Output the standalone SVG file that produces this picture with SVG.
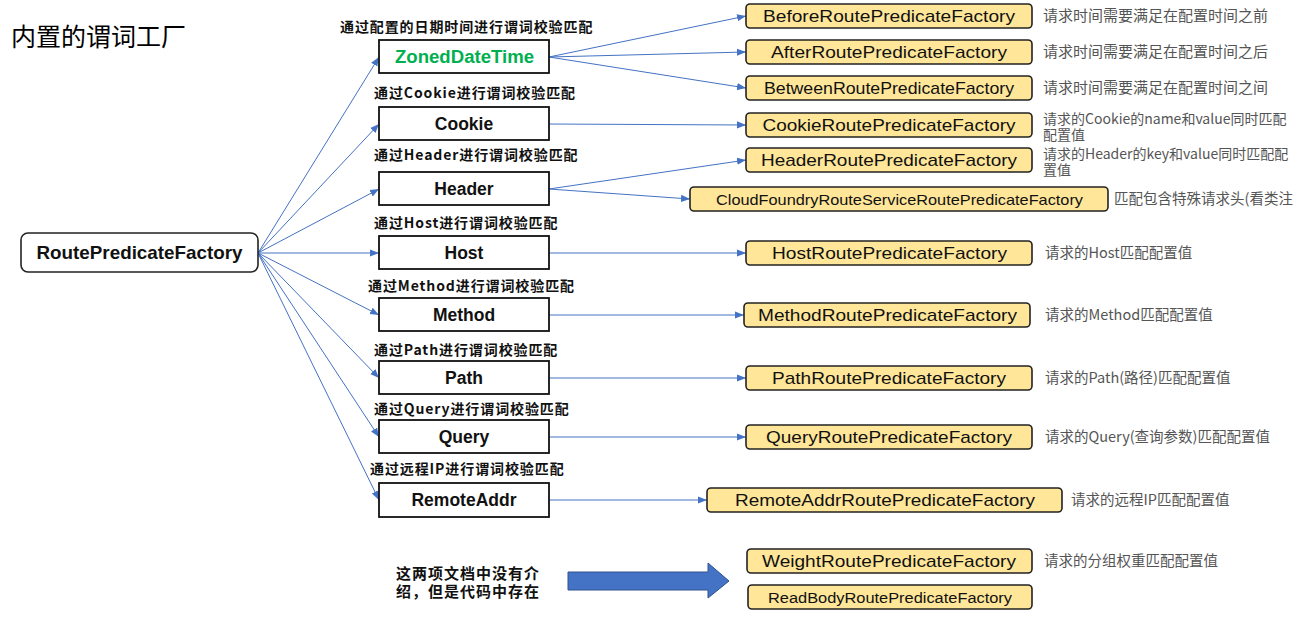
<svg xmlns="http://www.w3.org/2000/svg" width="1304" height="617" viewBox="0 0 1304 617">
  <style>
    .title { font-family: "Noto Sans CJK SC", "Liberation Sans", sans-serif; font-size: 25px; fill: #000; }
    .root-box { fill: #fff; stroke: #222; stroke-width: 1.6; }
    .root-txt { font-family: "Liberation Sans", "Noto Sans CJK SC", sans-serif; font-weight: bold; font-size: 18.5px; fill: #111; text-anchor: middle; }
    .mid-box { fill: #fff; stroke: #111; stroke-width: 1.8; }
    .mid-txt { font-family: "Liberation Sans", "Noto Sans CJK SC", sans-serif; font-weight: bold; font-size: 17.5px; fill: #111; text-anchor: middle; }
    .mid-lbl { font-family: "Noto Sans CJK SC", sans-serif; font-weight: bold; font-size: 14px; letter-spacing: 0.9px; fill: #111; }
    .fac-box { fill: #ffe699; stroke: #222; stroke-width: 1.6; }
    .fac-txt { font-family: "Liberation Sans", "Noto Sans CJK SC", sans-serif; font-size: 17px; fill: #111; text-anchor: middle; }
    .desc { font-family: "Noto Sans CJK SC", "Liberation Sans", sans-serif; font-size: 14.5px; fill: #555; }
    .desc-t { font-size: 15px; }
    .desc-s { font-size: 14px; }
    .note { font-family: "Noto Sans CJK SC", sans-serif; font-weight: bold; font-size: 15px; letter-spacing: 1px; fill: #111; }
    .conn { stroke: #4472c4; stroke-width: 1; fill: none; marker-end: url(#arr); }
  </style>
  <defs>
    <marker id="arr" viewBox="0 0 10 10" refX="10" refY="5" markerWidth="9" markerHeight="9" markerUnits="userSpaceOnUse" orient="auto">
      <path d="M0,1 L10,5 L0,9 Z" fill="#4472c4"/>
    </marker>
  </defs>

  <rect width="1304" height="617" fill="#fff"/>

  <text class="title" x="11" y="46">内置的谓词工厂</text>

  <!-- connectors -->
  <g id="connectors">
    <line class="conn" x1="258" y1="253" x2="379" y2="57"/>
    <line class="conn" x1="258" y1="253" x2="379" y2="124"/>
    <line class="conn" x1="258" y1="253" x2="379" y2="189"/>
    <line class="conn" x1="258" y1="253" x2="379" y2="253"/>
    <line class="conn" x1="258" y1="253" x2="379" y2="315"/>
    <line class="conn" x1="258" y1="253" x2="379" y2="378"/>
    <line class="conn" x1="258" y1="253" x2="379" y2="437"/>
    <line class="conn" x1="258" y1="253" x2="379" y2="500"/>

    <line class="conn" x1="549" y1="57" x2="746" y2="16"/>
    <line class="conn" x1="549" y1="57" x2="746" y2="52"/>
    <line class="conn" x1="549" y1="57" x2="746" y2="88"/>
    <line class="conn" x1="549" y1="124" x2="746" y2="125"/>
    <line class="conn" x1="549" y1="189" x2="746" y2="160"/>
    <line class="conn" x1="549" y1="189" x2="690" y2="199"/>
    <line class="conn" x1="549" y1="253" x2="746" y2="253"/>
    <line class="conn" x1="549" y1="315" x2="744" y2="315"/>
    <line class="conn" x1="549" y1="378" x2="746" y2="378"/>
    <line class="conn" x1="549" y1="437" x2="746" y2="437"/>
    <line class="conn" x1="549" y1="500" x2="707" y2="500"/>
  </g>

  <!-- root -->
  <g id="root">
    <rect class="root-box" x="21" y="233" width="237" height="39" rx="7"/>
    <text class="root-txt" x="139.5" y="259" textLength="206" lengthAdjust="spacingAndGlyphs">RoutePredicateFactory</text>
  </g>

  <!-- predicate kinds -->
  <g id="zoned">
    <text class="mid-lbl" x="340" y="32">通过配置的日期时间进行谓词校验匹配</text>
    <rect class="mid-box" x="379" y="40" width="170" height="33"/>
    <text class="mid-txt" x="464.5" y="63" style="fill:#00b050" textLength="139" lengthAdjust="spacingAndGlyphs">ZonedDateTime</text>
  </g>
  <g id="cookie">
    <text class="mid-lbl" x="374" y="98">通过Cookie进行谓词校验匹配</text>
    <rect class="mid-box" x="379" y="107" width="170" height="33"/>
    <text class="mid-txt" x="464" y="130">Cookie</text>
  </g>
  <g id="header">
    <text class="mid-lbl" x="374" y="160">通过Header进行谓词校验匹配</text>
    <rect class="mid-box" x="379" y="172" width="170" height="33"/>
    <text class="mid-txt" x="464" y="195">Header</text>
  </g>
  <g id="host">
    <text class="mid-lbl" x="374" y="228">通过Host进行谓词校验匹配</text>
    <rect class="mid-box" x="379" y="236" width="170" height="33"/>
    <text class="mid-txt" x="464" y="259">Host</text>
  </g>
  <g id="method">
    <text class="mid-lbl" x="368" y="291">通过Method进行谓词校验匹配</text>
    <rect class="mid-box" x="379" y="298" width="170" height="33"/>
    <text class="mid-txt" x="464" y="321">Method</text>
  </g>
  <g id="path">
    <text class="mid-lbl" x="374" y="355">通过Path进行谓词校验匹配</text>
    <rect class="mid-box" x="379" y="361" width="170" height="33"/>
    <text class="mid-txt" x="464" y="384">Path</text>
  </g>
  <g id="query">
    <text class="mid-lbl" x="374" y="414">通过Query进行谓词校验匹配</text>
    <rect class="mid-box" x="379" y="420" width="170" height="33"/>
    <text class="mid-txt" x="464" y="443">Query</text>
  </g>
  <g id="remoteaddr">
    <text class="mid-lbl" x="370" y="474">通过远程IP进行谓词校验匹配</text>
    <rect class="mid-box" x="379" y="483" width="170" height="34"/>
    <text class="mid-txt" x="464" y="506">RemoteAddr</text>
  </g>

  <!-- factories -->
  <g id="before-factory">
    <rect class="fac-box" x="746" y="4" width="286" height="24" rx="4"/>
    <text class="fac-txt" x="889" y="22" textLength="252" lengthAdjust="spacingAndGlyphs">BeforeRoutePredicateFactory</text>
    <text class="desc desc-t" x="1043" y="21">请求时间需要满足在配置时间之前</text>
  </g>
  <g id="after-factory">
    <rect class="fac-box" x="746" y="40" width="286" height="24" rx="4"/>
    <text class="fac-txt" x="889" y="58" textLength="236" lengthAdjust="spacingAndGlyphs">AfterRoutePredicateFactory</text>
    <text class="desc desc-t" x="1043" y="57">请求时间需要满足在配置时间之后</text>
  </g>
  <g id="between-factory">
    <rect class="fac-box" x="746" y="76" width="286" height="24" rx="4"/>
    <text class="fac-txt" x="889" y="94" textLength="250" lengthAdjust="spacingAndGlyphs">BetweenRoutePredicateFactory</text>
    <text class="desc desc-t" x="1043" y="93">请求时间需要满足在配置时间之间</text>
  </g>
  <g id="cookie-factory">
    <rect class="fac-box" x="746" y="113" width="286" height="24" rx="4"/>
    <text class="fac-txt" x="889" y="131" textLength="253" lengthAdjust="spacingAndGlyphs">CookieRoutePredicateFactory</text>
    <text class="desc desc-s" x="1043" y="124">请求的Cookie的name和value同时匹配<tspan x="1043" dy="16">配置值</tspan></text>
  </g>
  <g id="header-factory">
    <rect class="fac-box" x="746" y="148" width="286" height="24" rx="4"/>
    <text class="fac-txt" x="889" y="166" textLength="256" lengthAdjust="spacingAndGlyphs">HeaderRoutePredicateFactory</text>
    <text class="desc desc-s" x="1043" y="159">请求的Header的key和value同时匹配配<tspan x="1043" dy="16">置值</tspan></text>
  </g>
  <g id="cloudfoundry-factory">
    <rect class="fac-box" x="690" y="187" width="418" height="24" rx="4"/>
    <text class="fac-txt" x="899.5" y="204.5" style="font-size:15px" textLength="367" lengthAdjust="spacingAndGlyphs">CloudFoundryRouteServiceRoutePredicateFactory</text>
    <text class="desc" x="1114" y="204">匹配包含特殊请求头(看类注</text>
  </g>
  <g id="host-factory">
    <rect class="fac-box" x="746" y="241" width="286" height="24" rx="4"/>
    <text class="fac-txt" x="889.5" y="259" textLength="235" lengthAdjust="spacingAndGlyphs">HostRoutePredicateFactory</text>
    <text class="desc" x="1045" y="258">请求的Host匹配配置值</text>
  </g>
  <g id="method-factory">
    <rect class="fac-box" x="744" y="303" width="286" height="24" rx="4"/>
    <text class="fac-txt" x="887.5" y="321" textLength="259" lengthAdjust="spacingAndGlyphs">MethodRoutePredicateFactory</text>
    <text class="desc" x="1045" y="320">请求的Method匹配配置值</text>
  </g>
  <g id="path-factory">
    <rect class="fac-box" x="746" y="366" width="286" height="24" rx="4"/>
    <text class="fac-txt" x="889" y="384" textLength="234" lengthAdjust="spacingAndGlyphs">PathRoutePredicateFactory</text>
    <text class="desc" x="1045" y="383">请求的Path(路径)匹配配置值</text>
  </g>
  <g id="query-factory">
    <rect class="fac-box" x="746" y="425" width="286" height="24" rx="4"/>
    <text class="fac-txt" x="889" y="443" textLength="246" lengthAdjust="spacingAndGlyphs">QueryRoutePredicateFactory</text>
    <text class="desc" x="1045" y="442">请求的Query(查询参数)匹配配置值</text>
  </g>
  <g id="remoteaddr-factory">
    <rect class="fac-box" x="707" y="488" width="355" height="24" rx="4"/>
    <text class="fac-txt" x="885" y="506" textLength="300" lengthAdjust="spacingAndGlyphs">RemoteAddrRoutePredicateFactory</text>
    <text class="desc" x="1071" y="505">请求的远程IP匹配配置值</text>
  </g>
  <g id="weight-factory">
    <rect class="fac-box" x="747" y="549" width="285" height="24" rx="4"/>
    <text class="fac-txt" x="889" y="567" textLength="254" lengthAdjust="spacingAndGlyphs">WeightRoutePredicateFactory</text>
    <text class="desc" x="1044" y="566">请求的分组权重匹配配置值</text>
  </g>
  <g id="readbody-factory">
    <rect class="fac-box" x="748" y="585" width="284" height="24" rx="4"/>
    <text class="fac-txt" x="890" y="602.5" style="font-size:15.5px" textLength="244" lengthAdjust="spacingAndGlyphs">ReadBodyRoutePredicateFactory</text>
  </g>

  <!-- note with block arrow -->
  <g id="note">
    <text class="note" x="396" y="579">这两项文档中没有介<tspan x="396" dy="18">绍，但是代码中存在</tspan></text>
    <path d="M568,572 L708,572 L708,563 L729,581 L708,598 L708,590 L568,590 Z" fill="#4472c4" stroke="#2f528f" stroke-width="1"/>
  </g>
</svg>
